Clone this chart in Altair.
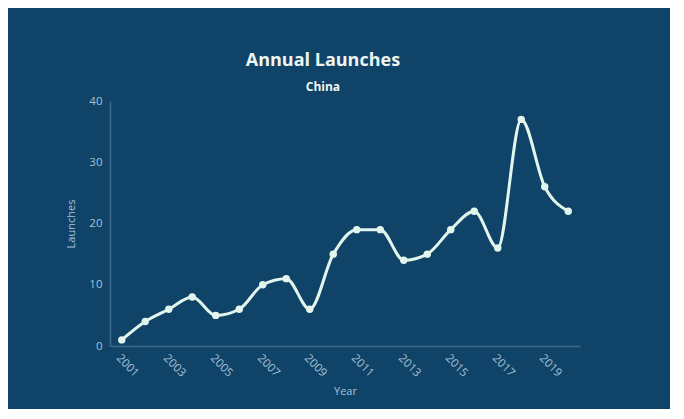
import altair as alt
import pandas as pd

years = list(range(2001, 2021))
launches = [1, 4, 6, 8, 5, 6, 10, 11, 6, 15, 19, 19, 14, 15, 19, 22, 16, 37, 26, 22]
tick_years = [2001, 2003, 2005, 2007, 2009, 2011, 2013, 2015, 2017, 2019]
y_ticks = [0, 10, 20, 30, 40]

df = pd.DataFrame({"Year": years, "Launches": launches})

BG = "#0f4368"
LINE = "#e3f6ee"
AXIS = "#3f6b8c"
LABEL = "#a6c2d6"

chart = (
    alt.Chart(df)
    .mark_line(
        interpolate="monotone",
        color=LINE,
        strokeWidth=3,
        point=alt.OverlayMarkDef(filled=True, size=55, color=LINE, opacity=1),
    )
    .encode(
        x=alt.X(
            "Year:Q",
            scale=alt.Scale(domain=[2000.5, 2020.5], nice=False, zero=False),
            axis=alt.Axis(values=tick_years, format="d", labelAngle=45, title="Year",
                          titlePadding=7, labelPadding=6),
        ),
        y=alt.Y(
            "Launches:Q",
            scale=alt.Scale(domain=[0, 40], nice=False),
            axis=alt.Axis(values=y_ticks, title="Launches", titlePadding=12, labelPadding=8),
        ),
    )
    .properties(
        width=470,
        height=245,
        autosize=alt.AutoSizeParams(type="none"),
        padding={"left": 102, "top": 93, "right": 90, "bottom": 63},
        background=BG,
        title=alt.TitleParams(
            "Annual Launches",
            subtitle="China",
            anchor="middle",
            frame="bounds",
            font="Open Sans",
            fontSize=18,
            fontWeight="bold",
            color="#eef5f0",
            subtitleFont="Open Sans",
            subtitleFontSize=12,
            subtitleFontWeight="bold",
            subtitleColor="#eef5f0",
            subtitlePadding=12,
            offset=2,
        ),
    )
    .configure_view(stroke=None)
    .configure_axis(
        grid=False,
        ticks=False,
        domainColor=AXIS,
        domainWidth=1.5,
        labelColor=LABEL,
        titleColor=LABEL,
        labelFont="Open Sans",
        titleFont="Open Sans",
        labelFontSize=11.5,
        titleFontSize=11,
        titleFontWeight="normal",
    )
)

chart.save("out.html", embed_options={"renderer": "svg", "actions": False})
